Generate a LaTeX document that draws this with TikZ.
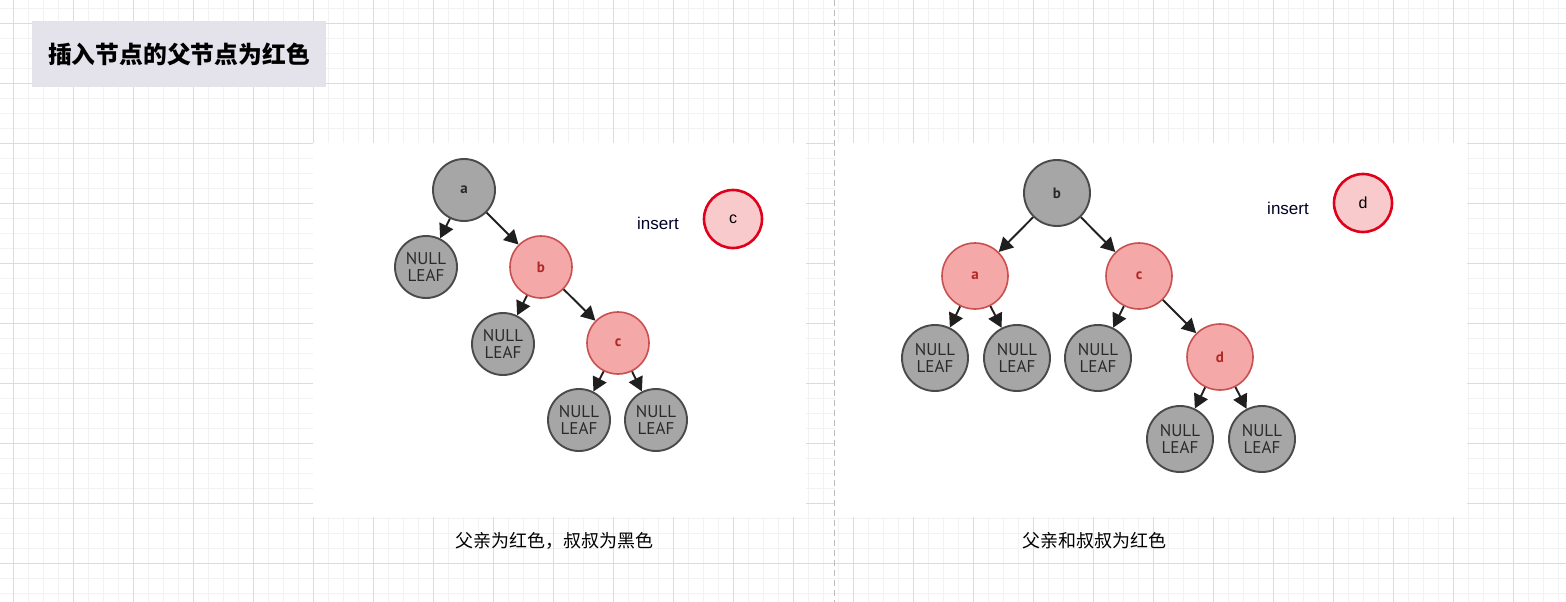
\documentclass[tikz,border=0pt]{standalone}
\usepackage{fontspec}
\setmainfont{Liberation Sans}
\newfontfamily\cjk{Noto Sans CJK SC}
\newfontfamily\leaffont{PT Sans}
\usetikzlibrary{arrows.meta}
\definecolor{gridminor}{HTML}{F2F2F2}
\definecolor{gridmajor}{HTML}{DCDCDC}
\definecolor{titlebg}{HTML}{E4E3EC}
\definecolor{gfill}{HTML}{A6A6A6}
\definecolor{gline}{HTML}{4A4A4A}
\definecolor{gtext}{HTML}{2A2A2A}
\definecolor{rfill}{HTML}{F5A8A8}
\definecolor{rline}{HTML}{C85050}
\definecolor{rtext}{HTML}{B02828}
\definecolor{insline}{HTML}{E0001B}
\definecolor{insfill}{HTML}{F8CACB}
\definecolor{dashcol}{HTML}{BBBBBB}
\tikzset{
  gnode/.style={circle, draw=gline, line width=1.9pt, fill=gfill, minimum size=62pt, inner sep=0pt, text=gtext, font=\leaffont\bfseries\fontsize{15}{18}\selectfont},
  rnode/.style={circle, draw=rline, line width=1.6pt, fill=rfill, minimum size=62pt, inner sep=0pt, text=rtext, font=\leaffont\bfseries\fontsize{15}{18}\selectfont},
  leafnode/.style={gnode, align=center, font=\leaffont\fontsize{17}{17.5}\selectfont},
  big/.style={minimum size=66pt},
  insnode/.style={circle, draw=insline, line width=2.6pt, fill=insfill, minimum size=58pt, inner sep=0pt, text=black, font=\fontsize{16}{18}\selectfont},
  instext/.style={font=\fontsize{17}{20}\selectfont, text=black!85!blue, inner sep=0pt},
  edge/.style={draw=black!88, line width=1.9pt, -{Triangle[length=14pt,width=15pt]}},
  caption/.style={font=\cjk\fontsize{18}{20}\selectfont, inner sep=0pt},
}
\begin{document}
\begin{tikzpicture}[x=1pt,y=-1pt]
\useasboundingbox (0,0) rectangle (1566,602);
\fill[white] (0,0) rectangle (1566,602);
% grid
\foreach \gx in {-2,13,...,1566} {\draw[gridminor, line width=0.8pt] (\gx,0) -- (\gx,602);}
\foreach \gy in {8,23,...,602} {\draw[gridminor, line width=0.8pt] (0,\gy) -- (1566,\gy);}
\foreach \gx in {13,73,...,1566} {\draw[gridmajor, line width=0.9pt] (\gx,0) -- (\gx,602);}
\foreach \gy in {23,83,...,602} {\draw[gridmajor, line width=0.9pt] (0,\gy) -- (1566,\gy);}
% panels
\fill[white] (313,143) rectangle (806,517);
\fill[white] (835,143) rectangle (1467,517);
% dashed divider
\draw[dashcol, line width=1pt, dash pattern=on 6pt off 4pt] (834.5,0) -- (834.5,602);
% title
\node[fill=titlebg, minimum width=294pt, minimum height=66pt, inner sep=0pt, font=\cjk\bfseries\fontsize{23.8}{27}\selectfont] (title) at (179,54) {插入节点的父节点为红色};

% left tree
\node[gnode] (la) at (464,190) {a};
\node[leafnode] (ln1) at (426,267) {NULL\\LEAF};
\node[rnode] (lb) at (541,267) {b};
\node[leafnode] (ln2) at (503,344) {NULL\\LEAF};
\node[rnode] (lc) at (618,343) {c};
\node[leafnode] (ln3) at (579,420) {NULL\\LEAF};
\node[leafnode] (ln4) at (656,420) {NULL\\LEAF};
\draw[edge] (la) -- (ln1);
\draw[edge] (la) -- (lb);
\draw[edge] (lb) -- (ln2);
\draw[edge] (lb) -- (lc);
\draw[edge] (lc) -- (ln3);
\draw[edge] (lc) -- (ln4);
\node[instext] (lins) at (658,223) {insert};
\node[insnode] (lnew) at (733,219) {c};

% right tree
\node[gnode, big] (rb) at (1057,193) {b};
\node[rnode, big] (ra) at (975,276) {a};
\node[rnode, big] (rc) at (1139,276) {c};
\node[leafnode, big] (rn1) at (935,358) {NULL\\LEAF};
\node[leafnode, big] (rn2) at (1017,358) {NULL\\LEAF};
\node[leafnode, big] (rn3) at (1098,358) {NULL\\LEAF};
\node[rnode, big] (rd) at (1220,357) {d};
\node[leafnode, big] (rn4) at (1180,439) {NULL\\LEAF};
\node[leafnode, big] (rn5) at (1262,439) {NULL\\LEAF};
\draw[edge] (rb) -- (ra);
\draw[edge] (rb) -- (rc);
\draw[edge] (ra) -- (rn1);
\draw[edge] (ra) -- (rn2);
\draw[edge] (rc) -- (rn3);
\draw[edge] (rc) -- (rd);
\draw[edge] (rd) -- (rn4);
\draw[edge] (rd) -- (rn5);
\node[instext] (rins) at (1288,208) {insert};
\node[insnode] (rnew) at (1363,203) {d};

% captions
\node[caption] (lcap) at (554,541) {父亲为红色，叔叔为黑色};
\node[caption] (rcap) at (1094,541) {父亲和叔叔为红色};
\end{tikzpicture}
\end{document}
